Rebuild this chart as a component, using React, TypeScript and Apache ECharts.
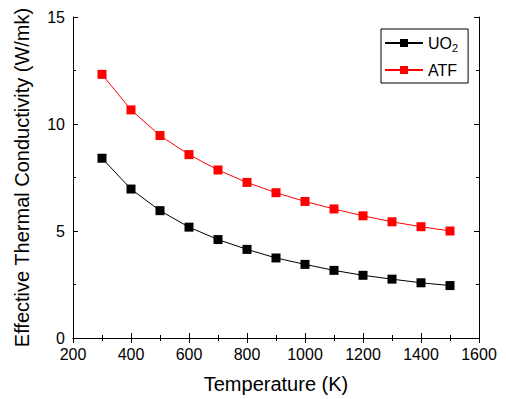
import React, { useEffect, useRef } from "react";
import * as echarts from "echarts";

const temperatures = [300, 400, 500, 600, 700, 800, 900, 1000, 1100, 1200, 1300, 1400, 1500];
const uo2Values = [8.4, 6.96, 5.95, 5.18, 4.6, 4.14, 3.74, 3.44, 3.16, 2.93, 2.75, 2.58, 2.45];
const atfValues = [12.32, 10.66, 9.46, 8.57, 7.85, 7.27, 6.79, 6.38, 6.03, 5.71, 5.43, 5.2, 5.0];
const seriesNames = ["UO2", "ATF"];
const xTitle = "Temperature (K)";
const yTitle = "Effective Thermal Conductivity (W/mk)";

const FONT = "Liberation Sans, Arial, sans-serif";

export default function App() {
  const ref = useRef<HTMLDivElement>(null);
  useEffect(() => {
    if (!ref.current) return;
    const chart = echarts.init(ref.current, undefined, { renderer: "svg" });
    const axisLine = { show: true, lineStyle: { color: "#000", width: 1 } };
    const tick = { show: true, inside: true, length: 5, lineStyle: { color: "#000" } };
    const minor = { show: true, splitNumber: 2, length: 3, lineStyle: { color: "#000" } };
    chart.setOption({
      animation: false,
      backgroundColor: "#fff",
      grid: { left: 73, right: 27, top: 17, bottom: 56, containLabel: false },
      legend: {
        data: seriesNames,
        orient: "vertical",
        left: 381,
        top: 29,
        itemWidth: 38,
        itemHeight: 10,
        itemGap: 9,
        borderColor: "#000",
        borderWidth: 1,
        borderRadius: 0,
        padding: [6, 10, 5, 3],
        formatter: (n: string) => (n === "UO2" ? "UO{sub|2}" : n),
        textStyle: {
          fontFamily: FONT,
          fontSize: 16,
          color: "#000",
          rich: {
            sub: { fontSize: 11, fontFamily: FONT, color: "#000", padding: [9, 0, 0, 0] },
          },
        },
      },
      xAxis: [
        {
          type: "value",
          min: 200,
          max: 1600,
          interval: 200,
          name: xTitle,
          nameLocation: "middle",
          nameGap: 36,
          nameTextStyle: { fontFamily: FONT, fontSize: 20, color: "#000" },
          axisLine,
          axisTick: tick,
          minorTick: minor,
          splitLine: { show: false },
          axisLabel: {
            fontFamily: FONT,
            fontSize: 16,
            color: "#000",
            margin: 8,
            formatter: (v: number) => String(v),
          },
        },
        {
          type: "value",
          position: "top",
          min: 200,
          max: 1600,
          interval: 200,
          axisLine,
          axisTick: tick,
          minorTick: minor,
          splitLine: { show: false },
          axisLabel: { show: false },
        },
      ],
      yAxis: [
        {
          type: "value",
          min: 0,
          max: 15,
          interval: 5,
          name: yTitle,
          nameLocation: "middle",
          nameGap: 41,
          nameTextStyle: { fontFamily: FONT, fontSize: 20, color: "#000" },
          axisLine,
          axisTick: tick,
          minorTick: minor,
          splitLine: { show: false },
          axisLabel: {
            fontFamily: FONT,
            fontSize: 16,
            color: "#000",
            margin: 8,
            formatter: (v: number) => String(v),
          },
        },
        {
          type: "value",
          position: "right",
          min: 0,
          max: 15,
          interval: 5,
          axisLine,
          axisTick: tick,
          minorTick: minor,
          splitLine: { show: false },
          axisLabel: { show: false },
        },
      ],
      series: [
        {
          name: "UO2",
          type: "line",
          data: temperatures.map((t, i) => [t, uo2Values[i]]),
          symbol: "rect",
          symbolSize: 9,
          itemStyle: { color: "#000" },
          lineStyle: { color: "#000", width: 1 },
        },
        {
          name: "ATF",
          type: "line",
          data: temperatures.map((t, i) => [t, atfValues[i]]),
          symbol: "rect",
          symbolSize: 9,
          itemStyle: { color: "#ff0000" },
          lineStyle: { color: "#ff0000", width: 1 },
        },
      ],
    });
    return () => chart.dispose();
  }, []);
  return (
    <div
      ref={ref}
      style={{ position: "absolute", left: 0, top: 0, width: 506, height: 399 }}
    />
  );
}
